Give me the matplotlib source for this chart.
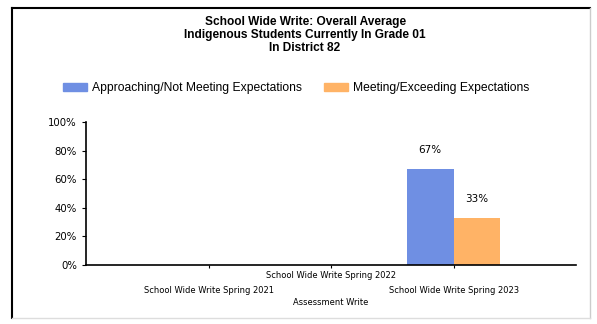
import numpy as np
import matplotlib.pyplot as plt
from matplotlib.patches import Patch
from matplotlib.lines import Line2D

plt.rcParams['font.family'] = ['Liberation Sans', 'DejaVu Sans']

# data
categories = ["School Wide Write Spring 2021", "School Wide Write Spring 2022",
              "School Wide Write Spring 2023"]
approaching = [np.nan, np.nan, 67]
meeting = [np.nan, np.nan, 33]
series_names = ["Approaching/Not Meeting Expectations", "Meeting/Exceeding Expectations"]
title_lines = ["School Wide Write: Overall Average",
               "Indigenous Students Currently In Grade 01",
               "In District 82"]

blue = '#6f8fe3'
orange = '#ffb366'

fig = plt.figure(figsize=(5.97, 3.24), dpi=100)
ax = fig.add_axes([0.144, 0.182, 0.821, 0.441])

x = np.arange(len(categories))
w = 0.38
b1 = ax.bar(x - w/2, approaching, w, color=blue, linewidth=0)
b2 = ax.bar(x + w/2, meeting, w, color=orange, linewidth=0)

for bars, vals in ((b1, approaching), (b2, meeting)):
    for r, v in zip(bars, vals):
        if not np.isnan(v):
            ax.annotate(f"{v:.0f}%", (r.get_x() + r.get_width()/2, v),
                        xytext=(0, 10), textcoords='offset points',
                        ha='center', va='bottom', fontsize=7.5, family='DejaVu Sans')

ax.set_xlim(-1, 3)
ax.set_ylim(0, 100)
ax.set_yticks(range(0, 101, 20))
ax.set_yticklabels([f"{t}%" for t in range(0, 101, 20)], fontsize=7.3, family='DejaVu Sans')
ax.set_xticks(x)
ax.set_xticklabels(categories, fontsize=6, family='DejaVu Sans')
for i, tick in enumerate(ax.xaxis.get_major_ticks()):
    tick.set_pad(2 if i == 1 else 13)
ax.tick_params(axis='x', length=2)
ax.tick_params(axis='y', length=3)
ax.set_xlabel("Assessment Write", fontsize=6, labelpad=2, family='DejaVu Sans')

for s in ('top', 'right'):
    ax.spines[s].set_visible(False)
for s in ('left', 'bottom'):
    ax.spines[s].set_linewidth(1.2)

# title
for i, line in enumerate(title_lines):
    fig.text(0.511, 0.932 - i*0.040, line, ha='center', va='center',
             fontsize=8.6, fontweight='bold')

handles = [Patch(color=blue), Patch(color=orange)]
fig.legend(handles, series_names, loc='center', bbox_to_anchor=(0.496, 0.727),
           ncol=2, frameon=False, fontsize=8.7, handlelength=2.0, handleheight=0.6,
           columnspacing=1.8, handletextpad=0.4)

# outer frame
fig.add_artist(Line2D([0.02, 0.988], [0.975, 0.975], color='black', lw=1.5))
fig.add_artist(Line2D([0.02, 0.02], [0.975, 0.019], color='black', lw=1.5))
fig.add_artist(Line2D([0.988, 0.988], [0.975, 0.019], color='#cccccc', lw=1))
fig.add_artist(Line2D([0.02, 0.988], [0.019, 0.019], color='#dddddd', lw=1))

fig.savefig('out.png', dpi=100)
